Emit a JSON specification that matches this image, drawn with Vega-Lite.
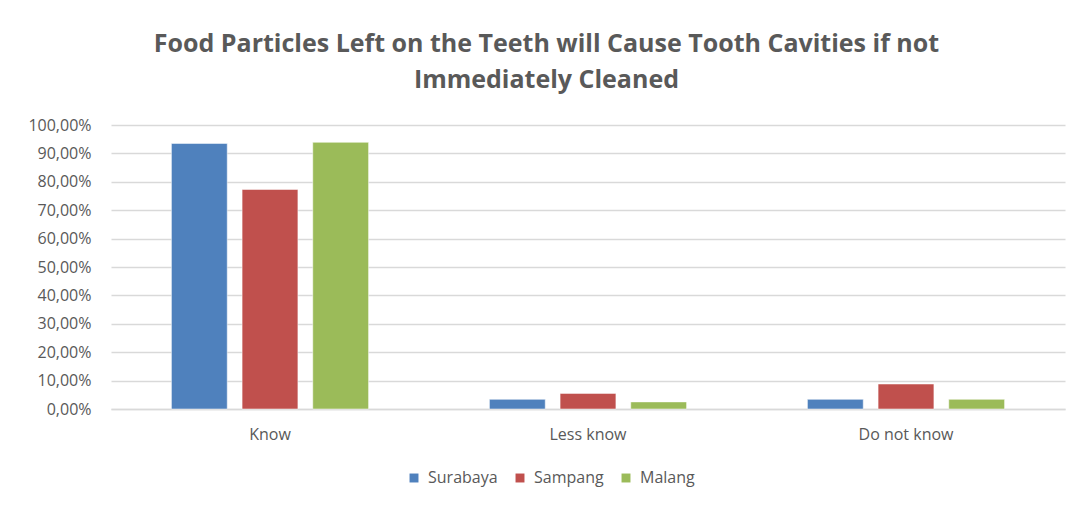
{
  "$schema": "https://vega.github.io/schema/vega-lite/v6.json",
  "autosize": "none",
  "width": 954,
  "height": 284,
  "padding": {"left": 111, "top": 125, "right": 13, "bottom": 97},
  "background": "white",
  "title": {
    "text": ["Food Particles Left on the Teeth will Cause Tooth Cavities if not", "Immediately Cleaned"],
    "font": "Open Sans",
    "fontSize": 25,
    "fontWeight": "bold",
    "color": "#595959",
    "lineHeight": 36,
    "offset": 24,
    "anchor": "middle",
    "frame": "bounds"
  },
  "data": {
    "values": [
      {"category": "Know", "city": "Surabaya", "value": 0.935},
      {"category": "Know", "city": "Sampang", "value": 0.773},
      {"category": "Know", "city": "Malang", "value": 0.939},
      {"category": "Less know", "city": "Surabaya", "value": 0.034},
      {"category": "Less know", "city": "Sampang", "value": 0.055},
      {"category": "Less know", "city": "Malang", "value": 0.025},
      {"category": "Do not know", "city": "Surabaya", "value": 0.034},
      {"category": "Do not know", "city": "Sampang", "value": 0.088},
      {"category": "Do not know", "city": "Malang", "value": 0.034}
    ]
  },
  "mark": {"type": "bar", "stroke": "white", "strokeOpacity": 0.5, "strokeWidth": 1},
  "encoding": {
    "x": {
      "field": "category",
      "type": "nominal",
      "sort": ["Know", "Less know", "Do not know"],
      "scale": {"paddingInner": 0.38, "paddingOuter": 0.19},
      "axis": {
        "title": null,
        "labelAngle": 0,
        "labelFont": "Open Sans",
        "labelFontSize": 16,
        "labelColor": "#595959",
        "labelPadding": 17,
        "ticks": false,
        "domainColor": "#d9d9d9",
        "domainWidth": 1.5
      }
    },
    "xOffset": {
      "field": "city",
      "type": "nominal",
      "sort": ["Surabaya", "Sampang", "Malang"],
      "scale": {"paddingInner": 0.21, "paddingOuter": 0}
    },
    "y": {
      "field": "value",
      "type": "quantitative",
      "scale": {"domain": [0, 1], "nice": false},
      "axis": {
        "title": null,
        "values": [0, 0.1, 0.2, 0.3, 0.4, 0.5, 0.6, 0.7, 0.8, 0.9, 1],
        "labelExpr": "replace(format(datum.value, '.2%'), '.', ',')",
        "labelFont": "Open Sans",
        "labelFontSize": 16,
        "labelColor": "#595959",
        "labelPadding": 20,
        "ticks": false,
        "domain": false,
        "gridColor": "#d9d9d9",
        "gridWidth": 1.5
      }
    },
    "color": {
      "field": "city",
      "type": "nominal",
      "sort": ["Surabaya", "Sampang", "Malang"],
      "scale": {"domain": ["Surabaya", "Sampang", "Malang"], "range": ["#4F81BD", "#C0504D", "#9BBB59"]},
      "legend": {
        "title": null,
        "orient": "none",
        "legendX": 295,
        "legendY": 345,
        "direction": "horizontal",
        "symbolType": "square",
        "symbolSize": 80,
        "symbolStrokeWidth": 0,
        "labelFont": "Open Sans",
        "labelFontSize": 16,
        "labelColor": "#595959",
        "columnPadding": 14,
        "labelOffset": 6
      }
    }
  },
  "config": {"view": {"stroke": null}}
}
